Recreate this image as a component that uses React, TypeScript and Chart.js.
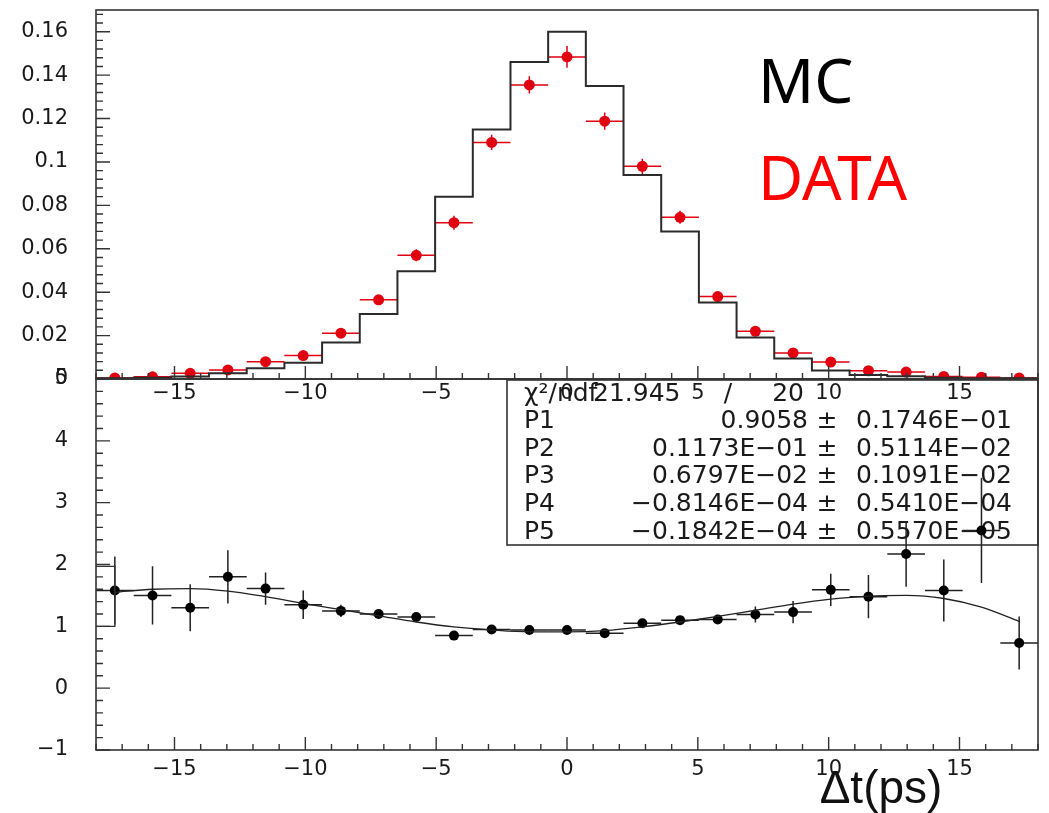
import React, { useEffect, useRef } from 'react';
import { Chart, registerables } from 'chart.js';

Chart.register(...registerables);

const W = 1049;
const H = 813;

// ---------- data ----------
const BIN_CENTERS = [
  -17.28, -15.84, -14.4, -12.96, -11.52, -10.08, -8.64, -7.2, -5.76, -4.32, -2.88, -1.44,
  0, 1.44, 2.88, 4.32, 5.76, 7.2, 8.64, 10.08, 11.52, 12.96, 14.4, 15.84, 17.28,
];
const BIN_HALF_WIDTH = 0.72;

const MC_VALUES = [
  0.0004, 0.0006, 0.0012, 0.0026, 0.0049, 0.0075, 0.0168, 0.03, 0.0496, 0.084, 0.115, 0.146,
  0.16, 0.135, 0.094, 0.068, 0.0353, 0.0191, 0.0094, 0.0039, 0.0019, 0.0013, 0.0006, 0.0004, 0.0003,
];

const DATA_VALUES = [
  0.0005, 0.001, 0.0026, 0.0042, 0.008, 0.0108, 0.0211, 0.0365, 0.057, 0.072, 0.109, 0.1355,
  0.1484, 0.1188, 0.098, 0.0745, 0.038, 0.022, 0.012, 0.0078, 0.0038, 0.0032, 0.0012, 0.0008, 0.0005,
];
const DATA_ERRORS = [
  0.0004, 0.0005, 0.0008, 0.001, 0.0012, 0.0014, 0.0018, 0.0022, 0.0028, 0.0032, 0.0035, 0.004,
  0.005, 0.004, 0.0035, 0.003, 0.0022, 0.0018, 0.0014, 0.0012, 0.001, 0.0009, 0.0006, 0.0005, 0.0004,
];

const RATIO_VALUES = [
  1.58, 1.5, 1.3, 1.8, 1.61, 1.35, 1.25, 1.2, 1.15, 0.85, 0.95, 0.94,
  0.94, 0.89, 1.05, 1.1, 1.11, 1.19, 1.23, 1.59, 1.48, 2.17, 1.58, 2.55, 0.73,
];
const RATIO_ERRORS = [
  0.55, 0.47, 0.38, 0.43, 0.26, 0.23, 0.1, 0.06, 0.05, 0.04, 0.04, 0.03,
  0.03, 0.03, 0.04, 0.05, 0.06, 0.13, 0.18, 0.26, 0.35, 0.53, 0.5, 0.85, 0.43,
];

const FIT_Y = [
  1.55, 1.6, 1.61, 1.57, 1.48, 1.37, 1.27, 1.17, 1.07, 0.99, 0.94, 0.91,
  0.91, 0.93, 0.99, 1.07, 1.16, 1.26, 1.36, 1.44, 1.49, 1.5, 1.45, 1.31, 1.08,
];

const BRACKET_X = [-18, -17.28, -17.28, -18];
const BRACKET_Y = [1.97, 1.97, 1.0, 1.0];

const X_TICKS = [-15, -10, -5, 0, 5, 10, 15];
const TOP_Y_TICKS = [0, 0.02, 0.04, 0.06, 0.08, 0.1, 0.12, 0.14, 0.16];
const BOTTOM_Y_TICKS = [-1, 0, 1, 2, 3, 4, 5];

const STAT_NAMES = ['P1', 'P2', 'P3', 'P4', 'P5'];
const STAT_VALUES = ['0.9058', '0.1173E\u221201', '0.6797E\u221202', '\u22120.8146E\u221204', '\u22120.1842E\u221204'];
const STAT_ERRORS = ['0.1746E\u221201', '0.5114E\u221202', '0.1091E\u221202', '0.5410E\u221204', '0.5570E\u221205'];
const CHI2_TEXT = '21.945';
const NDF_TEXT = '20';

// ---------- styling ----------
const TICK_FONT = { family: 'DejaVu Sans', size: 21 };
const TEXT_COLOR = '#1a1a1a';
const FRAME_COLOR = '#333';

const fmt = (v: number) => {
  const s = Number(v.toFixed(3)).toString();
  return s.replace('-', '\u2212');
};

// ---------- plugins ----------
const errorBarPlugin = {
  id: 'errorBars',
  beforeDatasetsDraw(chart: any) {
    const { ctx, chartArea: a } = chart;
    const xs = chart.scales.x;
    const ys = chart.scales.y;
    chart.data.datasets.forEach((ds: any) => {
      const eb = ds.errorBars;
      if (!eb) return;
      ctx.save();
      ctx.beginPath();
      ctx.rect(a.left, a.top, a.right - a.left, a.bottom - a.top);
      ctx.clip();
      ctx.strokeStyle = eb.color;
      ctx.lineWidth = eb.width;
      ds.data.forEach((p: any, i: number) => {
        const px = xs.getPixelForValue(p.x);
        const py = ys.getPixelForValue(p.y);
        const x0 = xs.getPixelForValue(p.x - eb.xHalf);
        const x1 = xs.getPixelForValue(p.x + eb.xHalf);
        const y0 = ys.getPixelForValue(p.y - eb.yErr[i]);
        const y1 = ys.getPixelForValue(p.y + eb.yErr[i]);
        ctx.beginPath();
        ctx.moveTo(x0, py);
        ctx.lineTo(x1, py);
        ctx.moveTo(px, y0);
        ctx.lineTo(px, y1);
        ctx.stroke();
      });
      ctx.restore();
    });
  },
};

const makeFramePlugin = (yMin: number, yMax: number, yMinorStep: number, yMajorEvery: number) => ({
  id: 'frameTicks',
  afterDatasetsDraw(chart: any) {
    const { ctx, chartArea: a } = chart;
    const xs = chart.scales.x;
    const ys = chart.scales.y;
    ctx.save();
    ctx.strokeStyle = FRAME_COLOR;
    ctx.lineWidth = 1.6;
    ctx.strokeRect(a.left, a.top, a.right - a.left, a.bottom - a.top);
    ctx.lineWidth = 1.4;
    ctx.beginPath();
    for (let k = -18; k <= 18; k++) {
      const px = xs.getPixelForValue(k);
      const len = k % 5 === 0 ? 13 : 6;
      ctx.moveTo(px, a.bottom);
      ctx.lineTo(px, a.bottom - len);
    }
    const n = Math.round((yMax - yMin) / yMinorStep);
    for (let k = 0; k <= n; k++) {
      const v = yMin + k * yMinorStep;
      const py = ys.getPixelForValue(v);
      const len = k % yMajorEvery === 0 ? 14 : 7;
      ctx.moveTo(a.left, py);
      ctx.lineTo(a.left + len, py);
    }
    ctx.stroke();
    ctx.restore();
  },
});

const statsBoxPlugin = {
  id: 'statsBox',
  beforeDatasetsDraw(chart: any) {
    const { ctx, chartArea: a } = chart;
    const left = 507;
    const top = 380;
    const right = a.right;
    const bottom = 545;
    ctx.save();
    ctx.fillStyle = '#fff';
    ctx.fillRect(left, top, right - left, bottom - top);
    ctx.strokeStyle = FRAME_COLOR;
    ctx.lineWidth = 1.6;
    ctx.strokeRect(left, top, right - left, bottom - top);
    ctx.fillStyle = TEXT_COLOR;
    ctx.font = '25px "DejaVu Sans"';
    ctx.textBaseline = 'middle';
    const rowH = 27.6;
    const y0 = 394;
    ctx.textAlign = 'left';
    ctx.fillText('\u03c7\u00b2/ndf', 524, y0);
    ctx.fillText(CHI2_TEXT, 593, y0);
    ctx.textAlign = 'center';
    ctx.fillText('/', 728, y0);
    ctx.textAlign = 'right';
    ctx.fillText(NDF_TEXT, 804, y0);
    STAT_NAMES.forEach((name, i) => {
      const y = y0 + rowH * (i + 1);
      ctx.textAlign = 'left';
      ctx.fillText(name, 524, y);
      ctx.textAlign = 'right';
      ctx.fillText(STAT_VALUES[i], 808, y);
      ctx.textAlign = 'center';
      ctx.fillText('\u00b1', 827, y);
      ctx.textAlign = 'left';
      ctx.fillText(STAT_ERRORS[i], 856, y);
    });
    ctx.restore();
  },
};

const topLabelsPlugin = {
  id: 'topLabels',
  afterDraw(chart: any) {
    const { ctx } = chart;
    ctx.save();
    ctx.textAlign = 'left';
    ctx.textBaseline = 'alphabetic';
    ctx.font = '62px "Noto Sans"';
    ctx.fillStyle = '#000';
    ctx.fillText('MC', 758, 103);
    ctx.fillStyle = '#ff0000';
    ctx.fillText('DATA', 758, 200);
    ctx.restore();
  },
};

const axisTitlePlugin = {
  id: 'axisTitle',
  afterDraw(chart: any) {
    const { ctx } = chart;
    ctx.save();
    ctx.textAlign = 'center';
    ctx.textBaseline = 'alphabetic';
    ctx.font = '46px "Liberation Sans"';
    ctx.fillStyle = '#111';
    ctx.fillText('\u0394t(ps)', 881, 803);
    ctx.restore();
  },
};

const xScale = (height: number, padding: number) => ({
  type: 'linear' as const,
  min: -18,
  max: 18,
  position: 'bottom' as const,
  afterBuildTicks: (s: any) => {
    s.ticks = X_TICKS.map((v) => ({ value: v }));
  },
  afterFit: (s: any) => {
    s.height = height;
    s.paddingLeft = 0;
    s.paddingRight = 0;
  },
  grid: { display: false, drawTicks: false },
  border: { display: false },
  ticks: {
    padding,
    font: TICK_FONT,
    color: TEXT_COLOR,
    maxRotation: 0,
    autoSkip: false,
    callback: (v: any) => fmt(Number(v)),
  },
});

const yScale = (min: number, max: number, tickVals: number[], padding: number) => ({
  type: 'linear' as const,
  min,
  max,
  afterBuildTicks: (s: any) => {
    s.ticks = tickVals.map((v) => ({ value: v }));
  },
  afterFit: (s: any) => {
    s.width = 96;
    s.paddingTop = 0;
    s.paddingBottom = 0;
  },
  grid: { display: false, drawTicks: false },
  border: { display: false },
  ticks: {
    padding,
    font: TICK_FONT,
    color: TEXT_COLOR,
    autoSkip: false,
    callback: (v: any) => fmt(Number(v)),
  },
});

const commonOptions = {
  responsive: false,
  animation: false as const,
  devicePixelRatio: 1,
  events: [] as any[],
  plugins: { legend: { display: false }, tooltip: { enabled: false } },
};

function topConfig(): any {
  const mcPoints: { x: number; y: number }[] = [{ x: BIN_CENTERS[0] - BIN_HALF_WIDTH, y: 0 }];
  BIN_CENTERS.forEach((c, i) => mcPoints.push({ x: c - BIN_HALF_WIDTH, y: MC_VALUES[i] }));
  const last = BIN_CENTERS.length - 1;
  mcPoints.push({ x: BIN_CENTERS[last] + BIN_HALF_WIDTH, y: MC_VALUES[last] });
  mcPoints.push({ x: BIN_CENTERS[last] + BIN_HALF_WIDTH, y: 0 });

  return {
    type: 'scatter',
    data: {
      datasets: [
        {
          label: 'MC',
          data: mcPoints,
          showLine: true,
          stepped: 'before',
          borderColor: '#2b2b2b',
          borderWidth: 2,
          pointRadius: 0,
          fill: false,
        },
        {
          label: 'DATA',
          data: BIN_CENTERS.map((x, i) => ({ x, y: DATA_VALUES[i] })),
          showLine: false,
          pointRadius: 5.5,
          pointBackgroundColor: '#e0000f',
          pointBorderColor: '#e0000f',
          pointBorderWidth: 0,
          errorBars: { xHalf: BIN_HALF_WIDTH, yErr: DATA_ERRORS, color: '#e0000f', width: 1.5 },
        },
      ],
    },
    options: {
      ...commonOptions,
      layout: { padding: { top: 10, right: 11, left: 0, bottom: 0 } },
      scales: {
        x: xScale(H - 379, 2),
        y: yScale(0, 0.17, TOP_Y_TICKS, 28),
      },
    },
    plugins: [errorBarPlugin, makeFramePlugin(0, 0.168, 0.004, 5), topLabelsPlugin],
  };
}

function bottomConfig(): any {
  return {
    type: 'scatter',
    data: {
      datasets: [
        {
          label: 'edge',
          data: BRACKET_X.map((x, i) => ({ x, y: BRACKET_Y[i] })),
          showLine: true,
          borderColor: '#333',
          borderWidth: 1.4,
          pointRadius: 0,
          fill: false,
        },
        {
          label: 'fit',
          data: BIN_CENTERS.map((x, i) => ({ x, y: FIT_Y[i] })),
          showLine: true,
          cubicInterpolationMode: 'monotone',
          borderColor: '#222',
          borderWidth: 1.3,
          pointRadius: 0,
          fill: false,
        },
        {
          label: 'ratio',
          data: BIN_CENTERS.map((x, i) => ({ x, y: RATIO_VALUES[i] })),
          showLine: false,
          pointRadius: 5,
          pointBackgroundColor: '#000',
          pointBorderColor: '#000',
          pointBorderWidth: 0,
          errorBars: { xHalf: BIN_HALF_WIDTH, yErr: RATIO_ERRORS, color: '#222', width: 1.5 },
        },
      ],
    },
    options: {
      ...commonOptions,
      layout: { padding: { top: 379, right: 11, left: 0, bottom: 0 } },
      scales: {
        x: xScale(H - 750, 7),
        y: yScale(-1, 5, BOTTOM_Y_TICKS, 28),
      },
    },
    plugins: [statsBoxPlugin, errorBarPlugin, makeFramePlugin(-1, 5, 0.2, 5), axisTitlePlugin],
  };
}

export default function App() {
  const bottomRef = useRef<HTMLCanvasElement>(null);
  const topRef = useRef<HTMLCanvasElement>(null);

  useEffect(() => {
    const bottom = new Chart(bottomRef.current as HTMLCanvasElement, bottomConfig());
    const top = new Chart(topRef.current as HTMLCanvasElement, topConfig());
    return () => {
      top.destroy();
      bottom.destroy();
    };
  }, []);

  return (
    <div style={{ position: 'absolute', left: 0, top: 0, width: W, height: H, background: '#fff', overflow: 'hidden' }}>
      <canvas ref={bottomRef} width={W} height={H} style={{ position: 'absolute', left: 0, top: 0 }} />
      <canvas ref={topRef} width={W} height={H} style={{ position: 'absolute', left: 0, top: 0 }} />
    </div>
  );
}
